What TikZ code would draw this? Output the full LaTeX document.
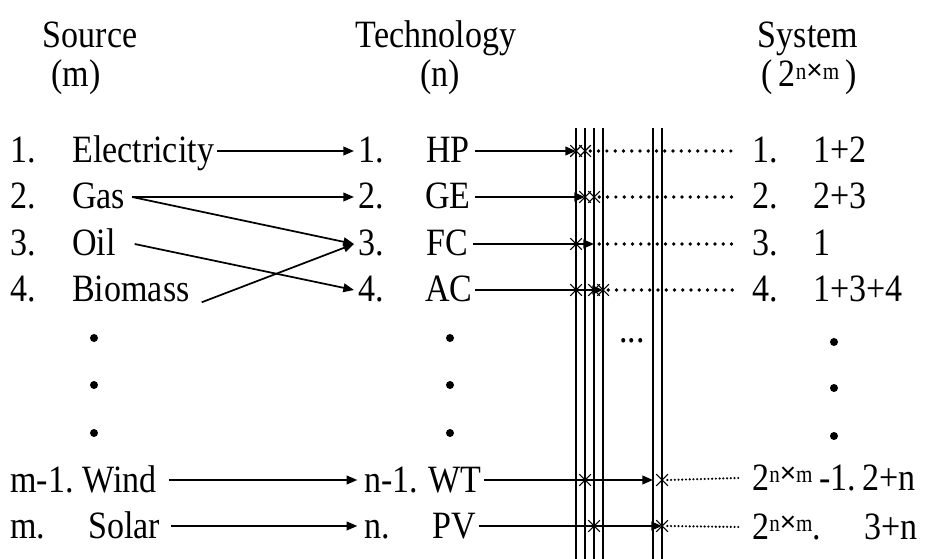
\documentclass[tikz,border=0pt]{standalone}
\usepackage{fontspec}
\setmainfont{Liberation Serif}[FakeStretch=0.88]
\newfontfamily\symfont{Liberation Sans}
\usetikzlibrary{arrows.meta,shapes.misc}
\newcommand{\nxm}{\raisebox{5.5pt}{\fontsize{18}{18}\selectfont n{\symfont\fontsize{21}{21}\selectfont ×}m}}
\begin{document}
\begin{tikzpicture}[x=0.75pt, y=-0.75pt, font=\fontsize{29}{32}\selectfont,
        head/.style={anchor=base, inner sep=0pt},
        item/.style={anchor=base west, inner sep=0pt, text height=18pt, text depth=0pt},
        arr/.style={-{Triangle[length=8pt,width=6.5pt]}, line width=1.3pt},
        bus/.style={line width=0.9pt},
        xmark/.style={draw, cross out, line width=0.8pt, minimum size=8pt, inner sep=0pt},
        link/.style={line width=2.8pt, line cap=round, dash pattern=on 0pt off 6.2pt},
        finelink/.style={line width=1.8pt, line cap=round, dash pattern=on 0pt off 2.8pt}]
        \useasboundingbox (0,0) rectangle (928,559);
        % headings
        \node[head] (src) at (90,48) {Source};
        \node[head] (srcm) at (76,87) {(m)};
        \node[head] (tec) at (436,48) {Technology};
        \node[head] (tecn) at (440,87) {(n)};
        \node[head] (sys) at (808,48) {System};
        \node[head] (sysn) at (809,87) {(\,2\nxm\,)};
        % sources
        \node[item] (s1) at (10,163) {1.};
        \node[item] (elec) at (72,163) {Electricity};
        \node[item] (s2) at (10,209) {2.};
        \node[item] (gas) at (72,209) {Gas};
        \node[item] (s3) at (10,256) {3.};
        \node[item] (oil) at (72,256) {Oil};
        \node[item] (s4) at (10,302) {4.};
        \node[item] (bio) at (72,302) {Biomass};
        \node[item] (sm1) at (10,492) {m-1.};
        \node[item] (wind) at (82,492) {Wind};
        \node[item] (sm) at (10,538) {m.};
        \node[item] (solar) at (88,538) {Solar};
        % technologies
        \node[item] (t1) at (358,163) {1.};
        \node[item] (hp) at (426,163) {HP};
        \node[item] (t2) at (358,209) {2.};
        \node[item] (ge) at (425,209) {GE};
        \node[item] (t3) at (358,256) {3.};
        \node[item] (fc) at (426,256) {FC};
        \node[item] (t4) at (358,302) {4.};
        \node[item] (ac) at (425,302) {AC};
        \node[item] (tn1) at (364,492) {n-1.};
        \node[item] (wt) at (428,492) {WT};
        \node[item] (tn) at (364,538) {n.};
        \node[item] (pv) at (432,538) {PV};
        % systems
        \node[item] (y1) at (752,163) {1.};
        \node[item] (c1) at (813,163) {1+2};
        \node[item] (y2) at (752,209) {2.};
        \node[item] (c2) at (813,209) {2+3};
        \node[item] (y3) at (752,256) {3.};
        \node[item] (c3) at (813,256) {1};
        \node[item] (y4) at (752,302) {4.};
        \node[item] (c4) at (813,302) {1+3+4};
        \node[item] (yn1) at (752,490) {2\nxm\,-1.};
        \node[item] (cn1) at (862,490) {2+n};
        \node[item] (yn) at (752,539) {2\nxm.};
        \node[item] (cn) at (864,539) {3+n};
        % omitted rows
        \foreach \x/\y in {94/338,94/385,94/433,450/338,450/385,450/433,834/342,834/388,834/436}
            \fill (\x,\y) circle (3pt);
        \node[head] (more) at (632,343) {...};
        % buses
        \foreach \n/\x in {1/576,2/585,3/594,4/603,5/653,6/662} {
            \coordinate (b\n) at (\x,128);
            \draw[bus] (b\n) -- (\x,559);
        }
        % source to technology
        \draw[arr] ([xshift=2pt]elec.east) -- ([xshift=-3pt]t1.west);
        \draw[arr] ([xshift=5pt]gas.east) -- ([xshift=-3pt]t2.west);
        \draw[arr] ([xshift=5pt]gas.east) -- ([xshift=-3pt]t3.west);
        \draw[arr] ([xshift=14pt]oil.east) -- ([xshift=-3pt]t4.west);
        \draw[arr] ([xshift=9pt]bio.south east) -- ([xshift=-3pt]t3.west);
        \draw[arr] ([xshift=9pt]wind.east) -- ([xshift=-5pt]tn1.west);
        \draw[arr] ([xshift=8pt]solar.east) -- ([xshift=-5pt]tn.west);
        % technology to buses
        \draw[arr] ([xshift=4pt]hp.east) -- (hp.east -| b1);
        \draw[arr] ([xshift=3pt]ge.east) -- (ge.east -| b2);
        \draw[arr] ([xshift=4pt]fc.east) -- (fc.east -| b3);
        \draw[arr] ([xshift=2pt]ac.east) -- (ac.east -| b4);
        \draw[arr] ([xshift=2pt]wt.east) -- (wt.east -| b5);
        \draw[arr] ([xshift=2pt]pv.east) -- (pv.east -| b6);
        \foreach \r/\b [count=\i] in {hp/b1,hp/b2,ge/b2,ge/b3,fc/b1,ac/b1,ac/b3,ac/b4,wt/b2,wt/b6,pv/b3,pv/b6}
            \node[xmark] (x\i) at (\r.east -| \b) {};
        % buses to systems
        \draw[link] ([xshift=4pt]hp.east -| b2) -- ([xshift=-10pt]y1.west);
        \draw[link] ([xshift=4pt]ge.east -| b3) -- ([xshift=-10pt]y2.west);
        \draw[link] ([xshift=4pt]fc.east -| b3) -- ([xshift=-10pt]y3.west);
        \draw[link] ([xshift=4pt]ac.east -| b4) -- ([xshift=-10pt]y4.west);
        \draw[finelink] ([xshift=4pt]wt.east -| b6) -- ([xshift=-10pt]yn1.west);
        \draw[finelink] ([xshift=4pt]pv.east -| b6) -- ([xshift=-10pt]yn.west);
    \end{tikzpicture}
\end{document}
